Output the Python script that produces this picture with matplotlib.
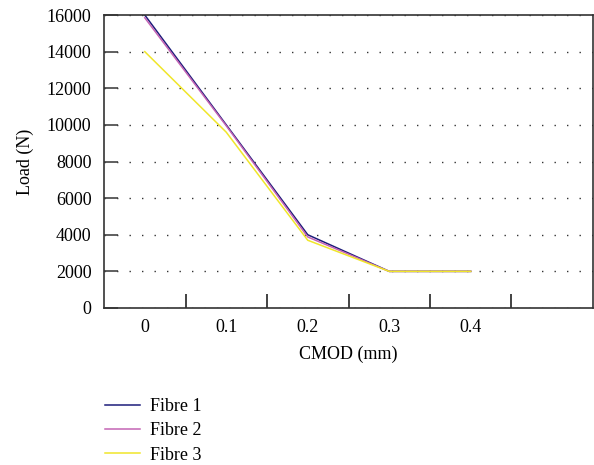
import matplotlib
matplotlib.use("Agg")
import matplotlib.pyplot as plt
from matplotlib.ticker import FixedLocator, NullFormatter

plt.rcParams['font.family'] = ['Liberation Serif', 'DejaVu Serif']

cmod = [0, 0.1, 0.2, 0.3, 0.4]
cmod_labels = ["0", "0.1", "0.2", "0.3", "0.4"]
fibre1 = [16000, 10000, 4000, 2000, 2000]
fibre2 = [15850, 9950, 3880, 2000, 2000]
fibre3 = [14000, 9600, 3700, 2000, 2000]
yticks = [0, 2000, 4000, 6000, 8000, 10000, 12000, 14000, 16000]

FS = 13

fig = plt.figure(figsize=(5.94, 4.65), dpi=100)
ax = fig.add_axes([104/594, 1-308/465, (593-104)/594, (308-15)/465])

ax.plot(cmod, fibre1, color="#1c1c7a", lw=1.1, label="Fibre 1")
ax.plot(cmod, fibre2, color="#c464b4", lw=1.1, label="Fibre 2")
ax.plot(cmod, fibre3, color="#f0e62a", lw=1.1, label="Fibre 3")

ax.set_xlim(-0.05, 0.55)
ax.set_ylim(0, 16000)
ax.set_yticks(yticks)
ax.set_yticklabels([str(v) for v in yticks])
ax.xaxis.set_major_locator(FixedLocator([0.05, 0.15, 0.25, 0.35, 0.45]))
ax.xaxis.set_major_formatter(NullFormatter())
ax.xaxis.set_minor_locator(FixedLocator(cmod))
ax.set_xticklabels(cmod_labels, minor=True)
ax.tick_params(axis='x', which='major', direction='in', length=10, width=1.2, color='#222222')
ax.tick_params(axis='x', which='minor', length=0, pad=8, labelsize=FS)
ax.tick_params(axis='y', direction='in', length=10, width=1.2, color='#444444', labelsize=FS, pad=9)

ax.yaxis.grid(True, linestyle=(0, (1, 8)), color='#333333', lw=1.0)
ax.set_axisbelow(True)
for s in ax.spines.values():
    s.set_color('#333333')
    s.set_linewidth(1.2)

ax.set_xlabel("CMOD (mm)", fontsize=FS, labelpad=7)
ax.set_ylabel("Load (N)", fontsize=FS, labelpad=9)

fig.legend(loc='upper left', bbox_to_anchor=(89/594, 1-382/465), frameon=False,
           fontsize=FS, handlelength=1.9, labelspacing=0.4, handletextpad=0.6)

fig.savefig("out.png", dpi=100)
